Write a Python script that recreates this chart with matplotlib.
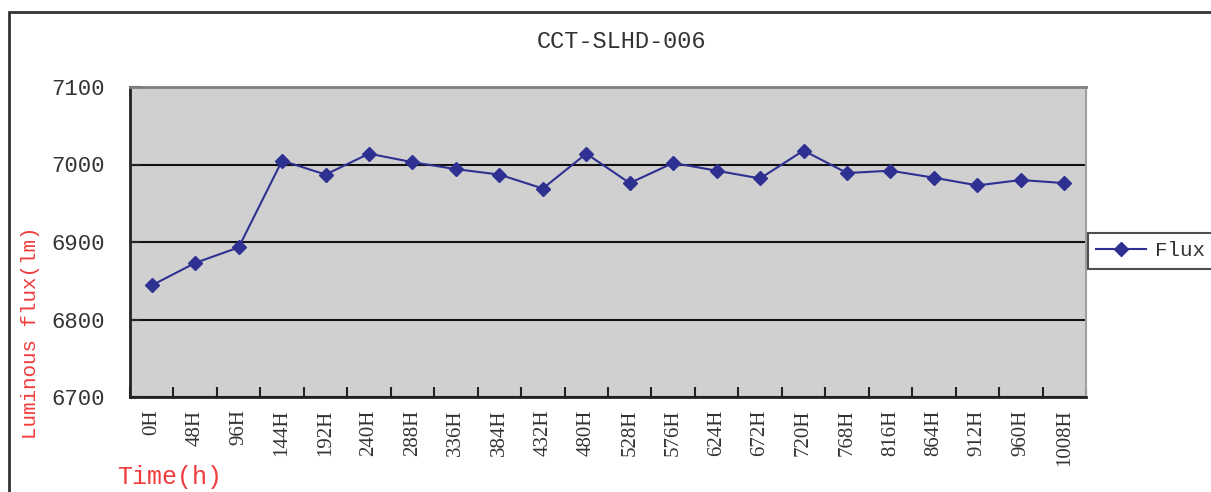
import matplotlib
matplotlib.use("Agg")
import matplotlib.pyplot as plt
from matplotlib.patches import Rectangle
import numpy as np

# 数据
hours = ["0H", "48H", "96H", "144H", "192H", "240H", "288H", "336H", "384H", "432H", "480H",
         "528H", "576H", "624H", "672H", "720H", "768H", "816H", "864H", "912H", "960H", "1008H"]
flux = [6844, 6873, 6893, 7005, 6987, 7014, 7003, 6994, 6987, 6969, 7014,
        6976, 7002, 6992, 6982, 7018, 6989, 6992, 6983, 6973, 6980, 6976]
yticks = [6700, 6800, 6900, 7000, 7100]

W, H = 1211, 492
fig = plt.figure(figsize=(W / 100, H / 100), dpi=100)
ax = fig.add_axes([130 / W, 1 - 397 / H, (1086 - 130) / W, (397 - 87) / H])

mono = "Liberation Mono"
serif = "Liberation Serif"
txt = "#333333"

# 外框
fig.add_artist(Rectangle((9 / W, -0.2), 1.5, (H - 12) / H + 0.2, transform=fig.transFigure,
                         fill=False, lw=2, ec="#333333"))

x = np.arange(len(hours))
ax.set_facecolor("#d0d0d0")
ax.plot(x, flux, color="#2e3192", marker="D", markersize=7, linewidth=1.5, label="Flux", zorder=3)

ax.set_xlim(-0.5, len(hours) - 0.5)
ax.set_ylim(6700, 7100)
ax.set_yticks(yticks)
ax.set_yticklabels([str(v) for v in yticks], fontfamily=mono, fontsize=16, color=txt)
ax.set_xticks(x)
ax.set_xticklabels(hours, rotation=90, fontfamily=serif, fontsize=15, color=txt)
ax.set_xticks(np.arange(-0.5, len(hours)), minor=True)

ax.tick_params(axis="x", which="major", length=0, pad=9)
ax.tick_params(axis="x", which="minor", direction="in", length=7, width=1.5, color="#222222")
ax.tick_params(axis="y", which="major", direction="in", length=8, width=1.5, color="#222222", pad=18)

# 网格
ax.yaxis.grid(True, color="#111111", linewidth=1.5)
ax.set_axisbelow(True)

for s in ["left", "bottom"]:
    ax.spines[s].set_color("#222222")
    ax.spines[s].set_linewidth(2)
ax.spines["top"].set_color("#808080")
ax.spines["top"].set_linewidth(2)
ax.spines["right"].set_color("#a0a0a0")
ax.spines["right"].set_linewidth(1.5)

fig.text(621 / W, 1 - 42 / H, "CCT-SLHD-006", fontfamily=mono, fontsize=17,
         ha="center", va="center", color=txt)
fig.text(31 / W, 1 - 333 / H, "Luminous flux(lm)", fontfamily=mono, fontsize=15,
         rotation=90, ha="center", va="center", color="#f03c3c")
fig.text(117 / W, 1 - 477 / H, "Time(h)", fontfamily=mono, fontsize=18,
         ha="left", va="center", color="#f03c3c")

leg = ax.legend(loc="center left", bbox_to_anchor=(1088 / W, 1 - 251 / H),
                bbox_transform=fig.transFigure, prop={"family": mono, "size": 15},
                frameon=True, fancybox=False, borderaxespad=0, handlelength=2.4,
                borderpad=0.4, handletextpad=0.4)
leg.get_frame().set_edgecolor("#222222")
leg.get_frame().set_linewidth(1.5)
for t in leg.get_texts():
    t.set_color(txt)

fig.savefig("out.png", dpi=100)
